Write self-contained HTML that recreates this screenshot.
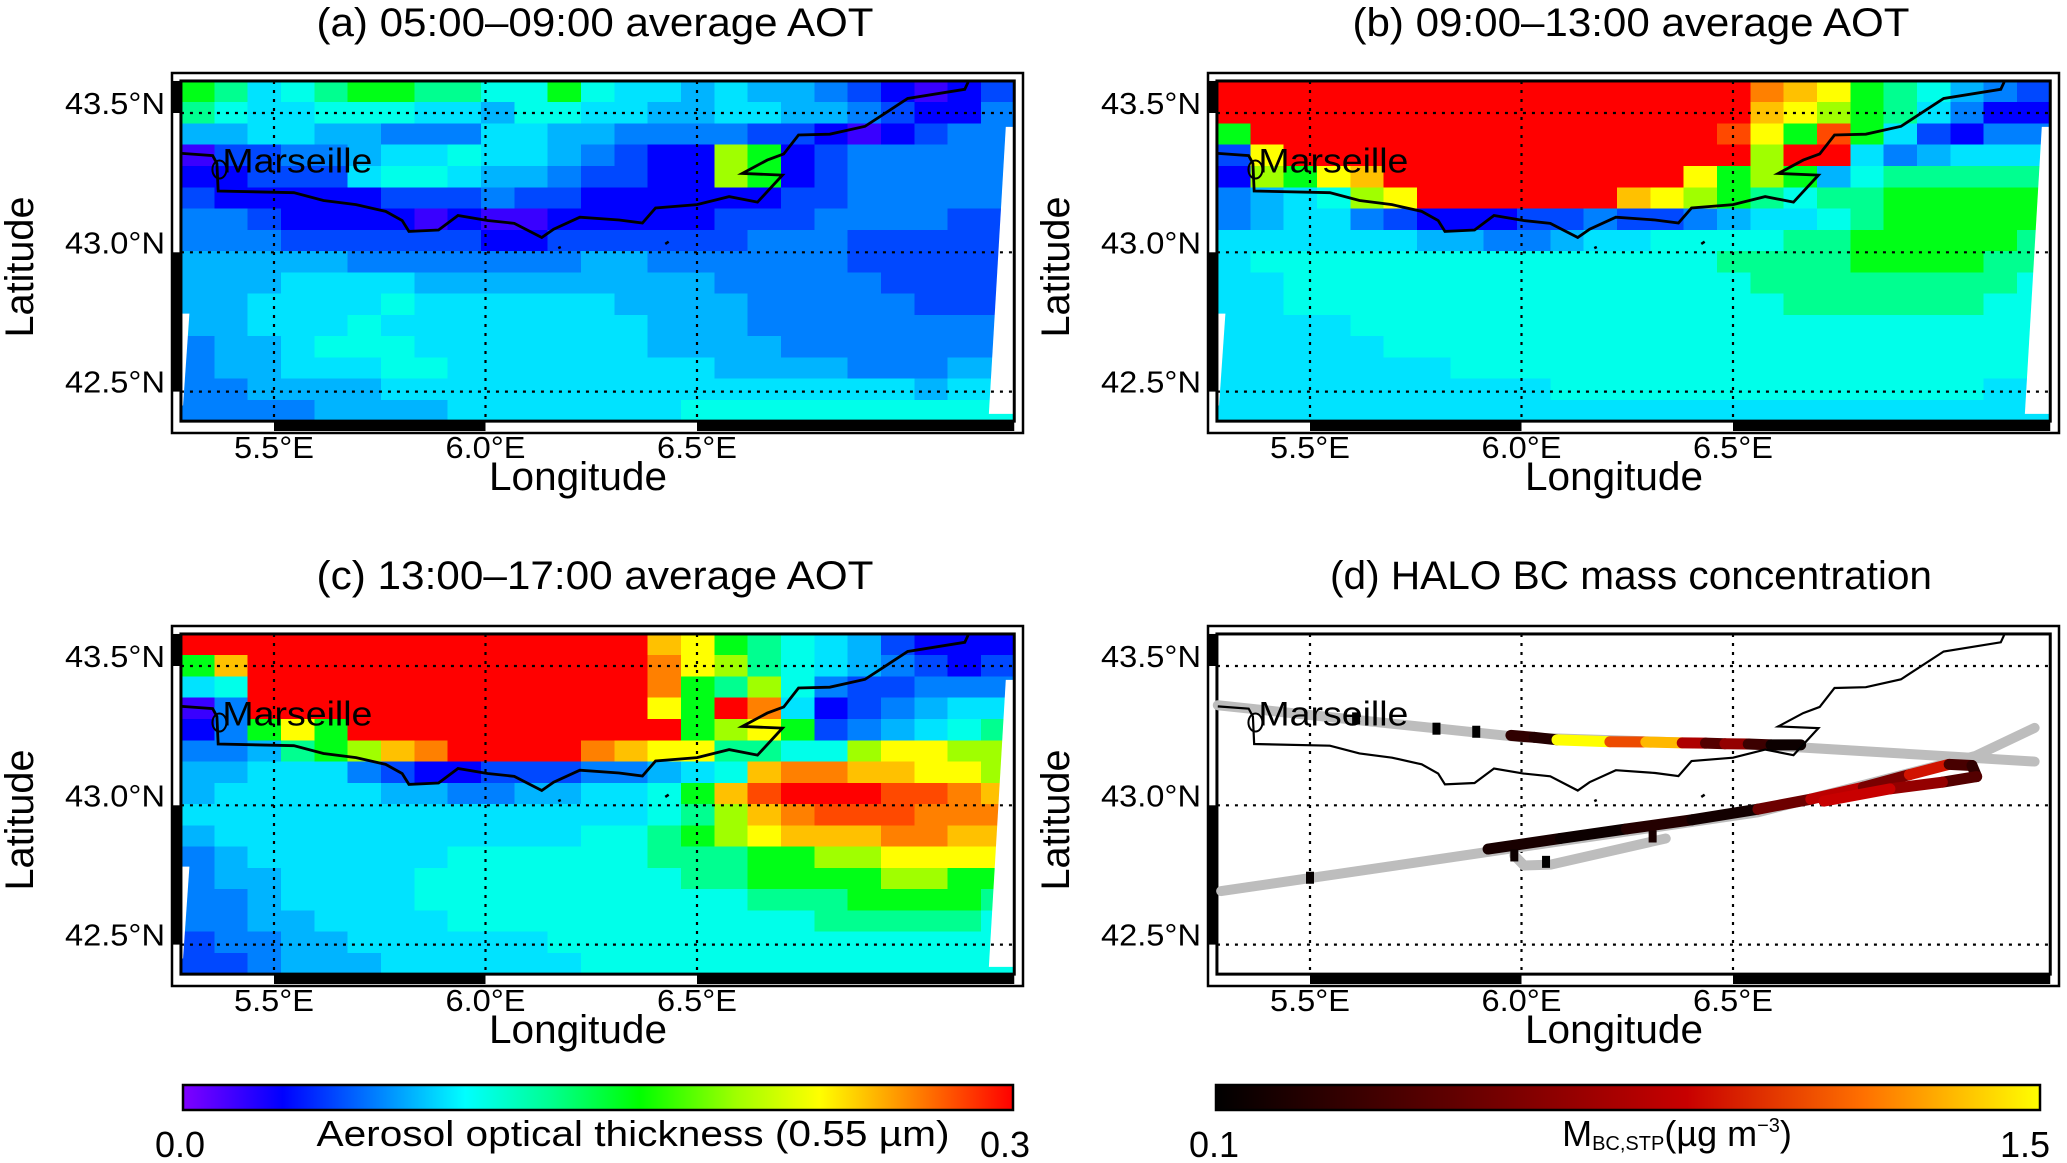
<!DOCTYPE html>
<html><head><meta charset="utf-8"><title>AOT maps and HALO BC</title>
<style>
html,body{margin:0;padding:0;background:#fff;}
svg{display:block;font-family:"Liberation Sans",Arial,sans-serif;}
</style></head>
<body>
<svg id="fig" width="2067" height="1163" viewBox="0 0 2067 1163" xmlns="http://www.w3.org/2000/svg">
<defs>
<linearGradient id="aotGrad" x1="0" x2="1" y1="0" y2="0"></linearGradient>
<linearGradient id="hotGrad" x1="0" x2="1" y1="0" y2="0"></linearGradient>
</defs>
</svg>
<script>
// ---- data ----
const lonTicks = [5.5, 6.0, 6.5];
const latTicks = [43.5, 43.0, 42.5];
const lonTickLabels = ["5.5°E", "6.0°E", "6.5°E"];
const latTickLabels = ["43.5°N", "43.0°N", "42.5°N"];
const panelTitles = ["(a) 05:00\u201309:00 average AOT", "(b) 09:00\u201313:00 average AOT", "(c) 13:00\u201317:00 average AOT", "(d) HALO BC mass concentration"];
// AOT value for each level code 0..f
const aotLevels = [0, 0.02, 0.036, 0.055, 0.07, 0.083, 0.095, 0.108, 0.133, 0.16, 0.2, 0.23, 0.247, 0.265, 0.28, 0.3];
// grid rows (north to south), 25 columns
const aotA = [
"9867899887797665655432123",
"8766777665776655665543224",
"5566554446655444433212344",
"1334456676654322a92344444",
"2233367765543322a92344444",
"3222223334332222223344444",
"4432222121122222333444433",
"4443333332233333344433333",
"5555544444445544444433333",
"5556666555555555444443333",
"5566667666666555544444333",
"5566676666666655544444444",
"4556777666666655554444444",
"4556667766666666555544455",
"4455556666666666666666566",
"4444555566666667777777777"];
const aotB = [
"ffffffffffffffffdcb987543",
"ffffffffffffffffcba986422",
"9ffffffffffffffeb9e963244",
"3bffffffffffffffaff645666",
"2a9bcfffffffffb9a95788888",
"4567abffffffcba9878899999",
"4566432223343345667899999",
"6666665544566777788999998",
"6777777777777778888999988",
"6677777777777777888888887",
"6677777777777777788888877",
"6666777777777777777777777",
"6666677777777777777777777",
"6666666777777777777777777",
"6666666666777777777777766",
"6666666666666666666666666"];
const aotC = [
"ffffffffffffffcb987653222",
"9cffffffffffffdba87654323",
"67ffffffffffffd98a7433444",
"14ffffffffffffb9fd6234566",
"249b9ffffffffff9ab9345678",
"44589acdffffdcbb8877abbaa",
"55666432233344567cddccbba",
"5666665544556679cefffeedc",
"6666666666666678acdeeeddd",
"5666666666667789abcccddcc",
"4566666677777788899aabbbb",
"455666677777777889999aa99",
"4456666777777777788899998",
"4455666677777777777888887",
"3445566666677777777777777",
"3345556666667777777777777"];
// coastline (lon, lat)
const coastLon = [5.282,5.355,5.365,5.368,5.547,5.617,5.694,5.764,5.803,5.819,5.889,5.935,6.005,6.068,6.133,6.161,6.223,6.316,6.371,6.402,6.500,6.576,6.643,6.702,6.607,6.666,6.705,6.740,6.814,6.897,6.998,7.133,7.141];
const coastLat = [43.355,43.347,43.319,43.220,43.214,43.186,43.171,43.147,43.114,43.075,43.080,43.132,43.114,43.104,43.053,43.083,43.126,43.116,43.105,43.159,43.171,43.200,43.180,43.277,43.283,43.331,43.353,43.421,43.424,43.452,43.552,43.585,43.611];
const marseille = {lon: 5.371, lat: 43.297};
// HALO flight tracks (gray, no BC data)
const trackULon = [5.282, 6.0, 6.559, 7.213];
const trackULat = [43.359, 43.244, 43.217, 43.157];
const trackLLon = [5.290, 6.559, 7.073, 7.213];
const trackLLat = [42.692, 42.975, 43.177, 43.278];
const loopLon = [5.983, 6.006, 6.069, 6.341];
const loopLat = [42.820, 42.784, 42.787, 42.881];
// BC samples along legs (NaN separates legs)
const bcLon = [5.975,6.030,6.084,6.209,6.294,6.380,6.435,6.481,6.536,6.590,6.660,NaN,5.921,6.092,6.248,6.403,6.559,6.684,6.808,6.917,7.011,7.065,7.076,6.995,6.871,6.715];
const bcLat = [43.251,43.244,43.235,43.228,43.227,43.224,43.223,43.221,43.220,43.217,43.217,NaN,42.843,42.881,42.915,42.948,42.986,43.022,43.065,43.110,43.147,43.143,43.103,43.083,43.059,43.015];
const bcVal = [0.3,0.25,1.5,1.1,1.35,0.8,0.45,0.7,0.35,0.15,0.15,NaN,0.2,0.15,0.25,0.18,0.55,0.85,0.6,0.95,0.4,0.3,0.45,0.7,0.9,0.9];
const spotLon = [5.609,5.799,5.893,5.5,5.983,6.058,6.310];
const spotLat = [43.312,43.275,43.264,42.740,42.820,42.797,42.888];
const spotVal = [0.1,0.1,0.1,0.12,0.15,0.1,0.2];

// ---- colour maps ----
const aotStops = [[0,'#8000ff'],[0.036,'#0000ff'],[0.07,'#0080ff'],[0.102,'#00ffff'],[0.133,'#00ff90'],[0.165,'#00ff00'],[0.2,'#a0ff00'],[0.23,'#ffff00'],[0.265,'#ff8000'],[0.3,'#ff0000']];
const hotStops = [[0.1,'#000000'],[0.5,'#600000'],[0.9,'#c80000'],[1.2,'#ff7000'],[1.5,'#ffff00']];
function hex(c){return [parseInt(c.slice(1,3),16),parseInt(c.slice(3,5),16),parseInt(c.slice(5,7),16)];}
function cmap(stops,v){
  if(v<=stops[0][0]) return stops[0][1];
  for(let i=1;i<stops.length;i++){
    if(v<=stops[i][0]){
      const t=(v-stops[i-1][0])/(stops[i][0]-stops[i-1][0]);
      const a=hex(stops[i-1][1]), b=hex(stops[i][1]);
      return 'rgb('+a.map((x,k)=>Math.round(x+(b[k]-x)*t)).join(',')+')';
    }
  }
  return stops[stops.length-1][1];
}

const NS='http://www.w3.org/2000/svg';
const svg=document.getElementById('fig');
function el(tag,attrs,parent){const e=document.createElementNS(NS,tag);for(const k in attrs)e.setAttribute(k,attrs[k]);(parent||svg).appendChild(e);return e;}

function fillGrad(id,stops){
  const g=document.getElementById(id);
  const lo=stops[0][0], hi=stops[stops.length-1][0];
  stops.forEach(s=>{el('stop',{offset:((s[0]-lo)/(hi-lo)*100)+'%','stop-color':s[1]},g);});
}
fillGrad('aotGrad',aotStops);fillGrad('hotGrad',hotStops);

const LON0=5.28, LON1=7.25, LAT0=43.615, LAT1=42.394;
function panel(idx,dx,dy,grid){
  const X=lon=>dx+274+(lon-5.5)*423;
  const Y=lat=>dy+113+(43.5-lat)*278.6;
  const g=el('g',{});
  
  
  const tl=idx===3?602:557;
  const t=el('text',{x:dx+595,y:dy+36,'font-size':40,'text-anchor':'middle',textLength:tl,lengthAdjust:'spacingAndGlyphs'},g);
  t.textContent=panelTitles[idx];
  
  
  const fr=el('rect',{x:dx+172,y:dy+73,width:851,height:360,fill:'none',stroke:'#000','stroke-width':2.5},g);
  
  
  if(grid){
    const cg=el('g',{'shape-rendering':'crispEdges'},g);
    
    
    const nr=grid.length;
    for(let r=0;r<nr;r++){
      const row=grid[r].replace(/\s/g,'');
      const nc=25;
      for(let c=0;c<nc;c++){
        const ch=row[Math.min(c,row.length-1)];
        const v=aotLevels[parseInt(ch,16)];
        const l0=LON0+(LON1-LON0)*c/nc, l1=LON0+(LON1-LON0)*(c+1)/nc;
        const a0=LAT0-(LAT0-LAT1)*r/nr, a1=LAT0-(LAT0-LAT1)*(r+1)/nr;
        const cell=el('rect',{x:X(l0),y:Y(a0),width:X(l1)-X(l0)+0.6,height:Y(a1)-Y(a0)+0.6,fill:cmap(aotStops,v)},cg);
        
        
      }
    }
    el('polygon',{points:[X(7.23),Y(43.45),X(7.25),Y(43.45),X(7.25),Y(42.42),X(7.19),Y(42.42)].join(' '),fill:'#fff'},g);
    el('polygon',{points:[X(5.28),Y(42.78),X(5.30),Y(42.78),X(5.285),Y(42.45),X(5.28),Y(42.45)].join(' '),fill:'#fff'},g);
  }
  const bands=[[5.5,6.0],[6.5,7.25]];
  bands.forEach(b=>{el('rect',{x:X(b[0]),y:dy+422,width:X(b[1])-X(b[0]),height:9,fill:'#000'},g);});
  el('rect',{x:X(5.28),y:dy+422,width:X(5.5)-X(5.28),height:9,fill:'#fff'},g);
  el('rect',{x:X(6.0),y:dy+422,width:X(6.5)-X(6.0),height:9,fill:'#fff'},g);
  el('rect',{x:dx+173,y:Y(43.615),width:8,height:Y(43.5)-Y(43.615),fill:'#000'},g);
  el('rect',{x:dx+173,y:Y(43.0),width:8,height:Y(42.5)-Y(43.0),fill:'#000'},g);
  el('rect',{x:X(5.28),y:Y(43.615),width:X(7.25)-X(5.28),height:Y(42.394)-Y(43.615),fill:'none',stroke:'#000','stroke-width':3},g);
  lonTicks.forEach((lon,i)=>{
    const ln=el('line',{x1:X(lon),x2:X(lon),y1:Y(43.615),y2:Y(42.394),stroke:'#000','stroke-width':2.2,'stroke-dasharray':'3,6'},g);
    
    
    const tx=el('text',{x:X(lon),y:dy+458,'font-size':31,'text-anchor':'middle',textLength:80,lengthAdjust:'spacingAndGlyphs'},g);
    tx.textContent=lonTickLabels[i];
    
    
  });
  latTicks.forEach((lat,i)=>{
    const ln=el('line',{x1:X(5.28),x2:X(7.25),y1:Y(lat),y2:Y(lat),stroke:'#000','stroke-width':2.2,'stroke-dasharray':'3,6'},g);
    
    
    const tx=el('text',{x:dx+165,y:Y(lat)+1,'font-size':31,'text-anchor':'end',textLength:100,lengthAdjust:'spacingAndGlyphs'},g);
    tx.textContent=latTickLabels[i];
    
    
  });
  if(idx===3){
    const pts=(lo,la)=>lo.map((v,i)=>X(v)+','+Y(la[i])).join(' ');
    [[trackULon,trackULat],[trackLLon,trackLLat],[loopLon,loopLat]].forEach(tr=>{
      const p=el('polyline',{points:pts(tr[0],tr[1]),fill:'none',stroke:'#bdbdbd','stroke-width':10,'stroke-linejoin':'round','stroke-linecap':'round'},g);
      
      
    });
    for(let i=0;i<bcLon.length-1;i++){
      if(isNaN(bcLon[i])||isNaN(bcLon[i+1])) continue;
      const s=el('line',{x1:X(bcLon[i]),y1:Y(bcLat[i]),x2:X(bcLon[i+1]),y2:Y(bcLat[i+1]),stroke:cmap(hotStops,bcVal[i]),'stroke-width':11,'stroke-linecap':'round'},g);
      
      
    }
    spotLon.forEach((lo,i)=>{
      const s=el('rect',{x:X(lo)-4,y:Y(spotLat[i])-6,width:8,height:12,fill:cmap(hotStops,spotVal[i])},g);
      
      
    });
  }
  const cl=el('polyline',{points:coastLon.map((v,i)=>X(v)+','+Y(coastLat[i])).join(' '),fill:'none',stroke:'#000','stroke-width':idx===3?2.2:2.8},g);
  
  
  el('line',{x1:X(6.172),y1:Y(43.015),x2:X(6.178),y2:Y(43.019),stroke:'#000','stroke-width':2.5},g);
  el('line',{x1:X(6.425),y1:Y(43.030),x2:X(6.433),y2:Y(43.038),stroke:'#000','stroke-width':2.5},g);
  const mc=el('ellipse',{cx:X(marseille.lon),cy:Y(marseille.lat),rx:7,ry:9,fill:'none',stroke:'#000','stroke-width':2},g);
  
  
  const mt=el('text',{x:X(marseille.lon)+3,y:Y(marseille.lat)+3,'font-size':34,textLength:150,lengthAdjust:'spacingAndGlyphs'},g);
  mt.textContent='Marseille';
  
  
  const xl=el('text',{x:dx+578,y:dy+490,'font-size':40,'text-anchor':'middle',textLength:178,lengthAdjust:'spacingAndGlyphs'},g);
  xl.textContent='Longitude';
  
  
  const yl=el('text',{x:0,y:0,'font-size':40,'text-anchor':'middle',textLength:141,lengthAdjust:'spacingAndGlyphs',transform:'translate('+(dx+33)+','+(dy+267)+') rotate(-90)'},g);
  yl.textContent='Latitude';
  
  
}
panel(0,0,0,aotA);
panel(1,1036,0,aotB);
panel(2,0,553,aotC);
panel(3,1036,553,null);

function colorbar(x0,x1,grad,lo,hi,loX,hiX,name){
  const g=el('g',{});
  
  
  el('rect',{x:x0,y:1085,width:x1-x0,height:25,fill:'url(#'+grad+')',stroke:'#000','stroke-width':2.5},g);
  const a=el('text',{x:loX,y:1157,'font-size':36},g);a.textContent=lo;
  
  
  const b=el('text',{x:hiX,y:1157,'font-size':36,'text-anchor':'end'},g);b.textContent=hi;
  
  
  return g;
}
colorbar(183,1013,'aotGrad','0.0','0.3',155,1030,'aot-colorbar');
const l1=el('text',{x:633,y:1146,'font-size':36,'text-anchor':'middle',textLength:633,lengthAdjust:'spacingAndGlyphs'});
l1.textContent='Aerosol optical thickness (0.55 \u00b5m)';


colorbar(1216,2040,'hotGrad','0.1','1.5',1189,2050,'bc-colorbar');
const l2=el('text',{x:1677,y:1146,'font-size':36,'text-anchor':'middle'});


const t1=el('tspan',{},l2);t1.textContent='M';
const t2=el('tspan',{'font-size':20,dy:4},l2);t2.textContent='BC,STP';
const t3=el('tspan',{dy:-4},l2);t3.textContent='(\u00b5g m';
const t4=el('tspan',{'font-size':20,dy:-14},l2);t4.textContent='\u22123';
const t5=el('tspan',{dy:14},l2);t5.textContent=')';
</script>
</body></html>
